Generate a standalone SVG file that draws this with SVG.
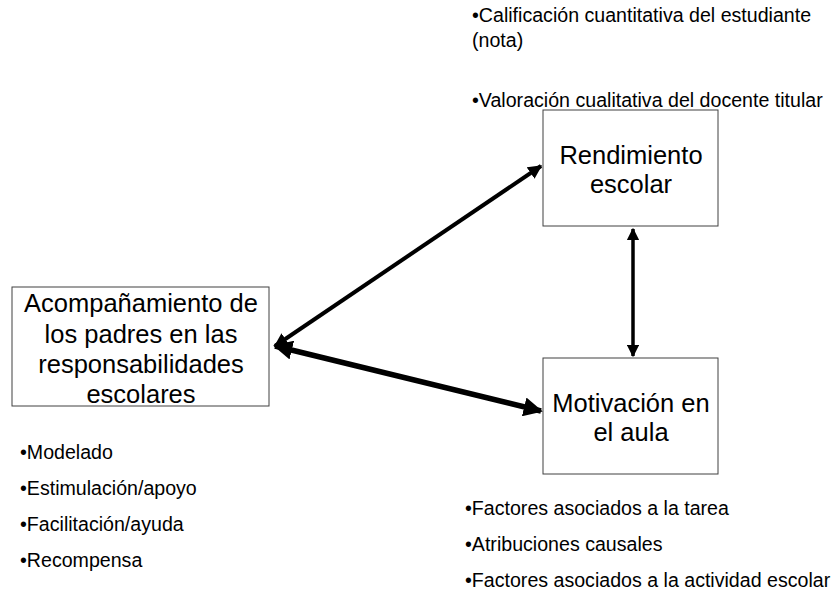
<svg xmlns="http://www.w3.org/2000/svg" width="838" height="590" viewBox="0 0 838 590">
<style>
.box{fill:#fff;stroke:#404040;stroke-width:1}
.big{font-family:"Liberation Sans",Arial,sans-serif;font-size:25.5px;fill:#000;text-anchor:middle}
.sm{font-family:"Liberation Sans",Arial,sans-serif;font-size:19.6px;fill:#000}
.con{stroke:#000;fill:none}
</style>
<defs>
<marker id="ah" viewBox="0 0 10 10" refX="9" refY="5" markerWidth="3.5" markerHeight="3.5" orient="auto-start-reverse" markerUnits="strokeWidth">
<path d="M0,0 L10,5 L0,10 z" fill="#000"/>
</marker>
</defs>
<rect width="838" height="590" fill="#fff"/>
<g id="connectors">
<line class="con" x1="275" y1="346" x2="541" y2="166" stroke-width="4" marker-start="url(#ah)" marker-end="url(#ah)"/>
<line class="con" x1="275" y1="346" x2="541" y2="411" stroke-width="5.5" marker-start="url(#ah)" marker-end="url(#ah)"/>
<line class="con" x1="633" y1="229" x2="633" y2="356" stroke-width="3.5" marker-start="url(#ah)" marker-end="url(#ah)"/>
</g>
<g id="rendimiento">
<rect class="box" x="543" y="110" width="175" height="116"/>
<text class="big" x="631" y="164">Rendimiento</text>
<text class="big" x="631" y="193">escolar</text>
</g>
<g id="motivacion">
<rect class="box" x="543" y="358" width="175" height="116"/>
<text class="big" x="631" y="412">Motivación en</text>
<text class="big" x="631" y="441">el aula</text>
</g>
<g id="acompanamiento">
<rect class="box" x="12" y="287" width="257" height="119"/>
<text class="big" x="141" y="312">Acompañamiento de</text>
<text class="big" x="141" y="343">los padres en las</text>
<text class="big" x="141" y="373">responsabilidades</text>
<text class="big" x="141" y="403">escolares</text>
</g>
<g id="notas-rendimiento">
<text class="sm" x="472" y="22">•Calificación cuantitativa del estudiante</text>
<text class="sm" x="472" y="47">(nota)</text>
<text class="sm" x="472" y="107">•Valoración cualitativa del docente titular</text>
</g>
<g id="notas-acompanamiento">
<text class="sm" x="20" y="459">•Modelado</text>
<text class="sm" x="20" y="495">•Estimulación/apoyo</text>
<text class="sm" x="20" y="531">•Facilitación/ayuda</text>
<text class="sm" x="20" y="567">•Recompensa</text>
</g>
<g id="notas-motivacion">
<text class="sm" x="465" y="515">•Factores asociados a la tarea</text>
<text class="sm" x="465" y="551">•Atribuciones causales</text>
<text class="sm" x="465" y="587">•Factores asociados a la actividad escolar</text>
</g>
</svg>
